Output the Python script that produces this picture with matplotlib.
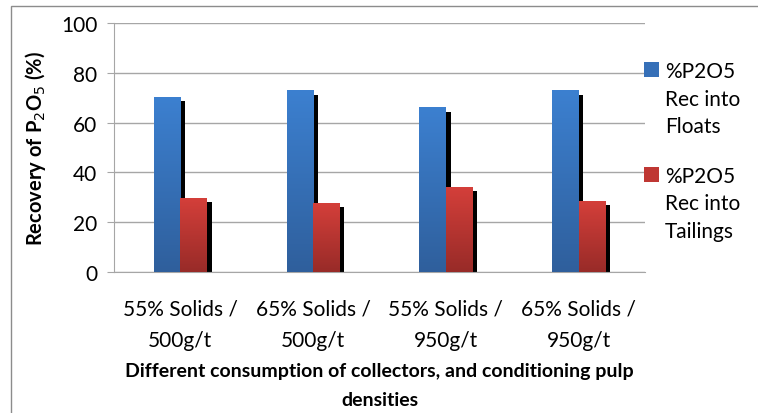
import numpy as np
import matplotlib.pyplot as plt
from matplotlib.colors import LinearSegmentedColormap
from matplotlib.patches import Rectangle

plt.rcParams['font.family'] = ['Lato', 'DejaVu Sans']

categories = ['55% Solids /\n500g/t', '65% Solids /\n500g/t',
              '55% Solids /\n950g/t', '65% Solids /\n950g/t']
floats = [70.2, 72.7, 65.9, 72.7]
tailings = [29.7, 27.7, 34.1, 28.5]
series_names = ['%P2O5\nRec into\nFloats', '%P2O5\nRec into\nTailings']

blue_cmap = LinearSegmentedColormap.from_list('blue', ['#2f5f9c', '#3c80d0'])
red_cmap = LinearSegmentedColormap.from_list('red', ['#982b28', '#d43f3a'])

W, H = 758, 414
fig = plt.figure(figsize=(W / 100, H / 100), dpi=100)
fig.patches.append(Rectangle((11 / W, -0.1), 1.2, 1 - 7 / H + 0.1,
                             transform=fig.transFigure, fill=False,
                             edgecolor='#8c8c8c', linewidth=1))
ax = fig.add_axes([114 / W, 1 - 273 / H, 531 / W, 249 / H])

width = 0.2
dx = 0.035
dy = 1.7
grad = np.linspace(0, 1, 256).reshape(-1, 1)
x = np.arange(len(categories))


def gradient_bar(xc, h, cmap):
    ax.imshow(grad, cmap=cmap, origin='lower', aspect='auto',
              extent=(xc - width / 2, xc + width / 2, 0, h), zorder=3)


for i in range(len(categories)):
    for off, vals, cmap in [(-width / 2, floats, blue_cmap),
                            (width / 2, tailings, red_cmap)]:
        # drop shadow behind each bar
        ax.bar(x[i] + off + dx, vals[i] - dy, width, color='black', zorder=2)
        gradient_bar(x[i] + off, vals[i], cmap)

ax.set_xlim(-0.5, 3.5)
ax.set_ylim(0, 100)
ax.set_yticks(range(0, 101, 20))
ax.yaxis.grid(True, color='#a6a6a6', linewidth=1)
ax.set_axisbelow(True)
ax.set_xticks(x)
ax.set_xticklabels(categories, fontsize=15, linespacing=1.75)
ax.tick_params(axis='x', length=0, pad=19)
ax.tick_params(axis='y', length=5, color='#a6a6a6', labelsize=15, pad=7)
for s in ['top', 'right']:
    ax.spines[s].set_visible(False)
for s in ['left', 'bottom']:
    ax.spines[s].set_color('#a6a6a6')

ax.set_ylabel('Recovery of P$_2$O$_5$ (%)', fontsize=14.5, fontweight='bold')
ax.yaxis.set_label_coords(-0.124, 0.5)
ax.set_xlabel('Different consumption of collectors, and conditioning pulp\ndensities',
              fontsize=14, fontweight='bold', linespacing=1.85)
ax.xaxis.set_label_coords(0.5, -0.36)

# legend drawn by hand: square next to the first line of each label
legend_colors = ['#3670b8', '#bf3733']
legend_top = [78, 183]
for name, col, base in zip(series_names, legend_colors, legend_top):
    fig.patches.append(Rectangle((644 / W, 1 - base / H), 15 / W, 15 / H,
                                 transform=fig.transFigure, facecolor=col))
    for k, line in enumerate(name.split('\n')):
        fig.text(665 / W, 1 - (base + 27.5 * k) / H, line, fontsize=15,
                 va='baseline', ha='left')

fig.savefig('out.png', dpi=100)
